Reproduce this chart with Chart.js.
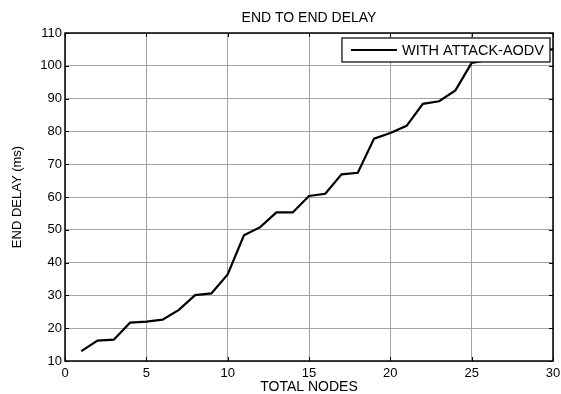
<!DOCTYPE html>
<html>
<head>
<meta charset="utf-8">
<script src="https://cdn.jsdelivr.net/npm/chart.js@4/dist/chart.umd.min.js"></script>
<style>
  html, body { margin: 0; padding: 0; background: #fff; }
  #wrap { width: 561px; height: 394px; }
</style>
</head>
<body>
<div id="wrap"><canvas id="c" width="561" height="394"></canvas></div>
<script>
// Total nodes in the network (x axis)
const nodes = [1, 2, 3, 4, 5, 6, 7, 8, 9, 10, 11, 12, 13, 14, 15,
               16, 17, 18, 19, 20, 21, 22, 23, 24, 25, 26, 27, 28, 29, 30];
// End-to-end delay in ms with the attack present
const delayWithAttack = [13.0, 16.2, 16.5, 21.7, 22.0, 22.6, 25.6, 30.1, 30.6, 36.4,
                         48.3, 50.8, 55.3, 55.3, 60.3, 61.0, 66.9, 67.4, 77.8, 79.5,
                         81.7, 88.4, 89.2, 92.5, 100.9, 101.8, 102.6, 103.5, 104.6, 105.0];
const xTicks = [0, 5, 10, 15, 20, 25, 30];
const yTicks = [10, 20, 30, 40, 50, 60, 70, 80, 90, 100, 110];
const seriesLabel = 'WITH ATTACK-AODV';
const chartTitle = 'END TO END DELAY';

const FONT = 'Liberation Sans';

// Title centred over the plot area rather than the whole canvas
const plotTitlePlugin = {
  id: 'plotTitle',
  afterDraw(chart) {
    const { ctx, chartArea: a } = chart;
    ctx.save();
    ctx.font = '14px "' + FONT + '"';
    ctx.fillStyle = '#000';
    ctx.textAlign = 'center';
    ctx.textBaseline = 'middle';
    ctx.fillText(chartTitle, (a.left + a.right) / 2, 18);
    ctx.restore();
  }
};

// Axes frame with inward tick marks on all four sides
const framePlugin = {
  id: 'frame',
  afterDatasetsDraw(chart) {
    const { ctx, chartArea: a, scales: { x, y } } = chart;
    ctx.save();
    ctx.strokeStyle = '#000';
    ctx.lineWidth = 1;
    const tl = 4;
    ctx.beginPath();
    xTicks.forEach(v => {
      const px = Math.round(x.getPixelForValue(v)) + 0.5;
      ctx.moveTo(px, a.bottom); ctx.lineTo(px, a.bottom - tl);
      ctx.moveTo(px, a.top); ctx.lineTo(px, a.top + tl);
    });
    yTicks.forEach(v => {
      const py = Math.round(y.getPixelForValue(v)) + 0.5;
      ctx.moveTo(a.left, py); ctx.lineTo(a.left + tl, py);
      ctx.moveTo(a.right, py); ctx.lineTo(a.right - tl, py);
    });
    ctx.stroke();
    ctx.lineWidth = 1.5;
    ctx.strokeRect(a.left, a.top, a.right - a.left, a.bottom - a.top);
    ctx.restore();
  }
};

// Boxed legend in the upper right corner of the plot
const boxLegendPlugin = {
  id: 'boxLegend',
  afterDraw(chart) {
    const { ctx, chartArea: a } = chart;
    const ds = chart.data.datasets[0];
    ctx.save();
    ctx.font = '14.5px "' + FONT + '"';
    const tw = ctx.measureText(ds.label).width;
    const padL = 9, sample = 46, gap = 5, padR = 6, h = 24;
    const w = padL + sample + gap + tw + padR;
    const right = a.right - 3;
    const left = right - w;
    const top = a.top + 5;
    ctx.fillStyle = '#fff';
    ctx.fillRect(left, top, w, h);
    ctx.strokeStyle = '#000';
    ctx.lineWidth = 1.2;
    ctx.strokeRect(left, top, w, h);
    const cy = top + h / 2;
    ctx.beginPath();
    ctx.lineWidth = ds.borderWidth;
    ctx.strokeStyle = ds.borderColor;
    ctx.moveTo(left + padL, cy);
    ctx.lineTo(left + padL + sample, cy);
    ctx.stroke();
    ctx.fillStyle = '#000';
    ctx.textBaseline = 'middle';
    ctx.textAlign = 'left';
    ctx.fillText(ds.label, left + padL + sample + gap, cy + 0.5);
    ctx.restore();
  }
};

new Chart(document.getElementById('c'), {
  type: 'line',
  data: {
    datasets: [{
      label: seriesLabel,
      data: nodes.map((n, i) => ({ x: n, y: delayWithAttack[i] })),
      borderColor: '#000',
      backgroundColor: '#000',
      borderWidth: 2.2,
      pointRadius: 0,
      tension: 0,
      fill: false
    }]
  },
  options: {
    responsive: false,
    animation: false,
    devicePixelRatio: 1,
    layout: { padding: { left: 0, right: 0, top: 33, bottom: 0 } },
    plugins: {
      legend: { display: false },
      tooltip: { enabled: false },
      title: { display: false }
    },
    scales: {
      x: {
        type: 'linear',
        min: 0,
        max: 30,
        afterBuildTicks(scale) { scale.ticks = xTicks.map(v => ({ value: v })); },
        afterFit(scale) {
          scale.height = 33;
          scale.paddingLeft = 0;
          scale.paddingRight = 8;
        },
        grid: { color: '#a3a3a3', lineWidth: 1, drawTicks: false },
        border: { display: false },
        ticks: { color: '#000', padding: 4.5, maxRotation: 0,
                 font: { family: FONT, size: 13, lineHeight: 1.2 } },
        title: {
          display: true,
          text: 'TOTAL NODES',
          color: '#000',
          font: { family: FONT, size: 14, lineHeight: 1 },
          padding: { top: 0, bottom: 0 }
        }
      },
      y: {
        min: 10,
        max: 110,
        afterBuildTicks(scale) { scale.ticks = yTicks.map(v => ({ value: v })); },
        afterFit(scale) {
          scale.width = 65;
          scale.paddingTop = 0;
          scale.paddingBottom = 0;
        },
        grid: { color: '#a3a3a3', lineWidth: 1, drawTicks: false },
        border: { display: false },
        ticks: { color: '#000', padding: 3,
                 font: { family: FONT, size: 13, lineHeight: 1.2 } },
        title: {
          display: true,
          text: 'END DELAY (ms)',
          color: '#000',
          font: { family: FONT, size: 13, lineHeight: 1.2 },
          padding: { top: 10, bottom: 0 }
        }
      }
    }
  },
  plugins: [framePlugin, boxLegendPlugin, plotTitlePlugin]
});
</script>
</body>
</html>
